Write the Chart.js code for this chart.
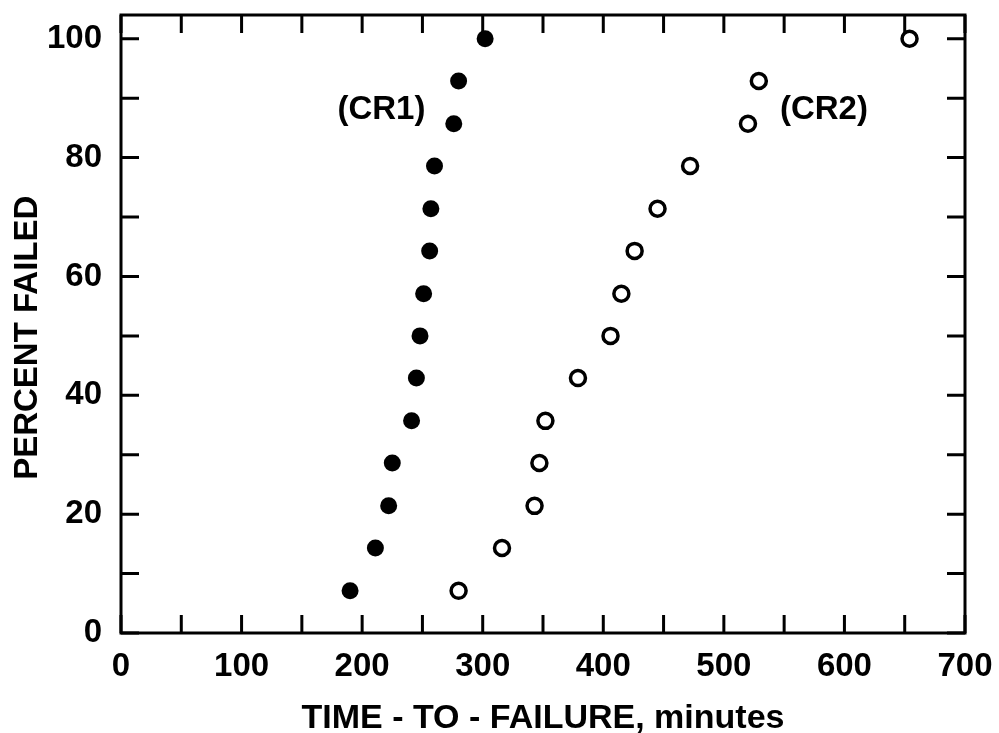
<!DOCTYPE html>
<html>
<head>
<meta charset="utf-8">
<script src="https://cdn.jsdelivr.net/npm/chart.js@4/dist/chart.umd.min.js"></script>
<style>
  body { margin: 0; background: #fff; }
  #wrap { width: 999px; height: 733px; }
</style>
</head>
<body>
<div id="wrap"><canvas id="failure_chart"></canvas></div>
<script>
// Time-to-failure (minutes) vs cumulative percent failed, two lots
const percentFailed = [7.1, 14.3, 21.4, 28.6, 35.7, 42.9, 50.0, 57.1, 64.3, 71.4, 78.6, 85.7, 92.9, 100];
const cr1Minutes = [190, 211, 222, 225, 241, 245, 248, 251, 256, 257, 260, 276, 280, 302];
const cr2Minutes = [280, 316, 343, 347, 352, 379, 406, 415, 426, 445, 472, 520, 529, 654];
const xTicks = [0, 50, 100, 150, 200, 250, 300, 350, 400, 450, 500, 550, 600, 650, 700];
const yTicks = [0, 10, 20, 30, 40, 50, 60, 70, 80, 90, 100];
const seriesNames = ['(CR1)', '(CR2)'];
const xTitle = 'TIME - TO - FAILURE, minutes';
const yTitle = 'PERCENT FAILED   ';

const FONT = '"Liberation Sans", Arial, Helvetica, sans-serif';

function toPoints(xs, ys) {
    return xs.map((x, i) => ({ x: x, y: ys[i] }));
}

// frame, inward tick marks on all four sides, and the series tags
const framePlugin = {
    id: 'frame',
    afterDraw(chart, args, opts) {
        const ctx = chart.ctx;
        const a = chart.chartArea;
        const xs = chart.scales.x;
        const ys = chart.scales.y;
        const len = 18;
        ctx.save();
        ctx.strokeStyle = '#000';
        ctx.lineWidth = 3;
        ctx.strokeRect(a.left, a.top, a.right - a.left, a.bottom - a.top);
        ctx.beginPath();
        xs.ticks.forEach(t => {
            const px = xs.getPixelForValue(t.value);
            ctx.moveTo(px, a.bottom); ctx.lineTo(px, a.bottom - len);
            ctx.moveTo(px, a.top); ctx.lineTo(px, a.top + len);
        });
        ys.ticks.forEach(t => {
            const py = ys.getPixelForValue(t.value);
            ctx.moveTo(a.left, py); ctx.lineTo(a.left + len, py);
            ctx.moveTo(a.right, py); ctx.lineTo(a.right - len, py);
        });
        ctx.stroke();

        ctx.fillStyle = '#000';
        ctx.font = 'bold 33px ' + FONT;
        ctx.textAlign = 'center';
        ctx.textBaseline = 'middle';
        opts.tags.forEach(tag => {
            ctx.fillText(tag.text, xs.getPixelForValue(tag.x), ys.getPixelForValue(tag.y));
        });
        ctx.restore();
    }
};

function noPad(s) {
    s.paddingTop = 0;
    s.paddingBottom = 0;
    s.paddingLeft = 0;
    s.paddingRight = 0;
}

new Chart(document.getElementById('failure_chart').getContext('2d'), {
    type: 'scatter',
    data: {
        datasets: [{
            label: seriesNames[0],
            data: toPoints(cr1Minutes, percentFailed),
            backgroundColor: '#000',
            borderWidth: 0,
            pointRadius: 8.5
        }, {
            label: seriesNames[1],
            data: toPoints(cr2Minutes, percentFailed),
            backgroundColor: '#fff',
            borderColor: '#000',
            borderWidth: 3.5,
            pointRadius: 7.5
        }]
    },
    options: {
        responsive: true,
        maintainAspectRatio: false,
        animation: false,
        layout: { padding: { top: 15, right: 34, left: 0, bottom: 0 } },
        plugins: {
            legend: { display: false },
            tooltip: { enabled: false },
            frame: {
                tags: [
                    { text: seriesNames[0], x: 216, y: 88 },
                    { text: seriesNames[1], x: 583, y: 88 }
                ]
            }
        },
        scales: {
            x: {
                type: 'linear',
                min: 0,
                max: 700,
                grid: { display: false },
                border: { display: false },
                afterBuildTicks: s => { s.ticks = xTicks.map(v => ({ value: v })); },
                ticks: {
                    padding: 6,
                    autoSkip: false,
                    maxRotation: 0,
                    minRotation: 0,
                    color: '#000',
                    font: { family: FONT, size: 33, weight: 'bold' },
                    callback: v => (v % 100 === 0 ? v : '')
                },
                title: {
                    display: true,
                    text: xTitle,
                    color: '#000',
                    font: { family: FONT, size: 34, weight: 'bold', lineHeight: 1 },
                    padding: { top: 0, bottom: -3 }
                },
                afterFit: s => { s.height = 100; noPad(s); }
            },
            y: {
                type: 'linear',
                min: 0,
                max: 104,
                grid: { display: false },
                border: { display: false },
                afterBuildTicks: s => { s.ticks = yTicks.map(v => ({ value: v })); },
                ticks: {
                    padding: 11,
                    autoSkip: false,
                    color: '#000',
                    font: { family: FONT, size: 33, weight: 'bold' },
                    callback: v => (v % 20 === 0 ? v : '')
                },
                title: {
                    display: true,
                    text: yTitle,
                    color: '#000',
                    font: { family: FONT, size: 33, weight: 'bold', lineHeight: 1 },
                    padding: { top: 11, bottom: 0 }
                },
                afterFit: s => { s.width = 121; noPad(s); }
            }
        }
    },
    plugins: [framePlugin]
});
</script>
</body>
</html>
